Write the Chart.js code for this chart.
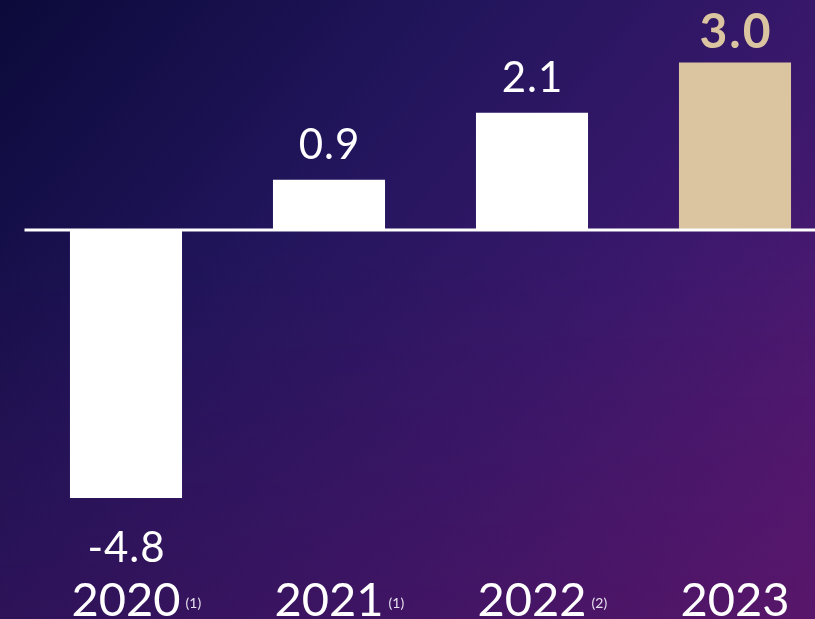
<!DOCTYPE html>
<html>
<head>
<meta charset="utf-8">
<script src="https://cdn.jsdelivr.net/npm/chart.js@4/dist/chart.umd.min.js"></script>
<style>
  html, body { margin: 0; padding: 0; overflow: hidden; }
  body {
    width: 815px; height: 619px;
    background:
      linear-gradient(to bottom, rgba(60, 10, 60, 0) 40%, rgba(70, 10, 70, 0.25) 100%),
      linear-gradient(130deg, #0b0a3a 0%, #22155c 35%, #3a186c 65%, #5e1a76 100%);
  }
  #wrap { position: absolute; left: 0; top: 0; width: 840px; height: 619px; }
</style>
</head>
<body>
<div id="wrap"><canvas id="growth-chart" width="840" height="619"></canvas></div>
<script>
const years = ['2020', '2021', '2022', '2023'];
const notes = ['(1)', '(1)', '(2)', ''];
const growth = [-4.8, 0.9, 2.1, 3.0];
const valueLabels = ['-4.8', '0.9', '2.1', '3.0'];

const WHITE = '#ffffff';
const SAND = '#dbc4a0';
const FONT = 'Lato, "Open Sans", sans-serif';

const barColors = growth.map((v, i) => i === growth.length - 1 ? SAND : WHITE);

// zero line, value labels and year labels
const annotate = {
  id: 'annotate',
  afterDatasetsDraw(chart) {
    const { ctx, scales: { y } } = chart;
    const zero = y.getPixelForValue(0);
    ctx.save();
    ctx.strokeStyle = WHITE;
    ctx.lineWidth = 3;
    ctx.beginPath();
    ctx.moveTo(chart.chartArea.left, zero);
    ctx.lineTo(chart.width, zero);
    ctx.stroke();

    const bars = chart.getDatasetMeta(0).data;
    bars.forEach((bar, i) => {
      const last = i === bars.length - 1;
      ctx.textAlign = 'center';
      ctx.textBaseline = 'alphabetic';
      ctx.fillStyle = last ? SAND : WHITE;
      ctx.font = last ? `bold 48px ${FONT}` : `42px ${FONT}`;
      ctx.letterSpacing = last ? '2px' : '1px';
      const ty = growth[i] >= 0 ? bar.y - (last ? 15 : 21) : bar.y + 64;
      ctx.fillText(valueLabels[i], bar.x + (last ? 1 : 0.5), ty);

      ctx.letterSpacing = '0px';
      ctx.fillStyle = WHITE;
      ctx.font = `47px ${FONT}`;
      ctx.fillText(years[i], bar.x, 616);
      if (notes[i]) {
        const w = ctx.measureText(years[i]).width;
        ctx.font = `14px ${FONT}`;
        ctx.fillStyle = '#e6e0ee';
        ctx.textAlign = 'left';
        ctx.fillText(notes[i], bar.x + w / 2 + 5, 608);
      }
    });
    ctx.restore();
  }
};

new Chart(document.getElementById('growth-chart'), {
  type: 'bar',
  data: {
    labels: years,
    datasets: [{
      data: growth,
      backgroundColor: barColors,
      borderWidth: 0,
      barPercentage: 0.552,
      categoryPercentage: 1,
    }],
  },
  options: {
    responsive: false,
    animation: false,
    layout: { padding: { left: 24.5, right: 3.5, top: 0, bottom: 0 } },
    plugins: { legend: { display: false }, tooltip: { enabled: false } },
    scales: {
      x: { display: false },
      y: { display: false, min: -6.97, max: 4.12 },
    },
  },
  plugins: [annotate],
});
</script>
</body>
</html>
